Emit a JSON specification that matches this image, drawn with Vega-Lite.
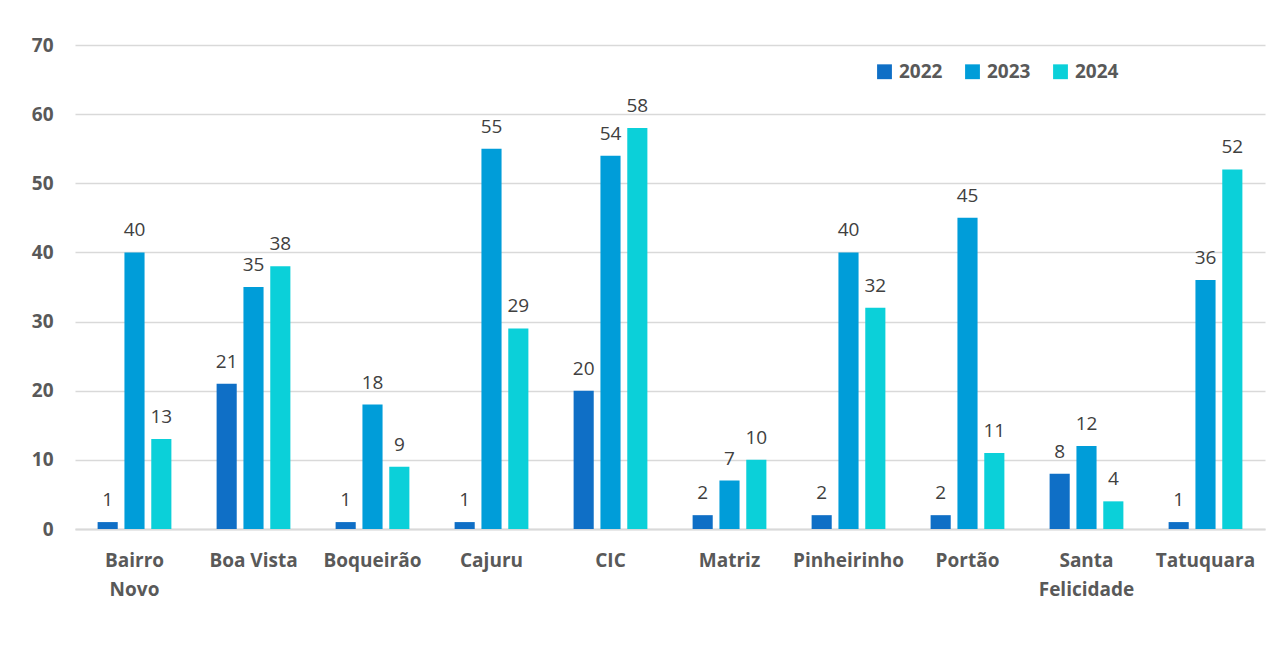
{
  "$schema": "https://vega.github.io/schema/vega-lite/v6.json",
  "width": 1190,
  "height": 484,
  "autosize": {"type": "none"},
  "padding": {"left": 75, "top": 45, "right": 20, "bottom": 128},
  "background": "white",
  "config": {
    "view": {"stroke": null},
    "font": "Open Sans"
  },
  "data": {
    "values": [
      {"regiao": "Bairro Novo", "ano": "2022", "valor": 1},
      {"regiao": "Bairro Novo", "ano": "2023", "valor": 40},
      {"regiao": "Bairro Novo", "ano": "2024", "valor": 13},
      {"regiao": "Boa Vista", "ano": "2022", "valor": 21},
      {"regiao": "Boa Vista", "ano": "2023", "valor": 35},
      {"regiao": "Boa Vista", "ano": "2024", "valor": 38},
      {"regiao": "Boqueirão", "ano": "2022", "valor": 1},
      {"regiao": "Boqueirão", "ano": "2023", "valor": 18},
      {"regiao": "Boqueirão", "ano": "2024", "valor": 9},
      {"regiao": "Cajuru", "ano": "2022", "valor": 1},
      {"regiao": "Cajuru", "ano": "2023", "valor": 55},
      {"regiao": "Cajuru", "ano": "2024", "valor": 29},
      {"regiao": "CIC", "ano": "2022", "valor": 20},
      {"regiao": "CIC", "ano": "2023", "valor": 54},
      {"regiao": "CIC", "ano": "2024", "valor": 58},
      {"regiao": "Matriz", "ano": "2022", "valor": 2},
      {"regiao": "Matriz", "ano": "2023", "valor": 7},
      {"regiao": "Matriz", "ano": "2024", "valor": 10},
      {"regiao": "Pinheirinho", "ano": "2022", "valor": 2},
      {"regiao": "Pinheirinho", "ano": "2023", "valor": 40},
      {"regiao": "Pinheirinho", "ano": "2024", "valor": 32},
      {"regiao": "Portão", "ano": "2022", "valor": 2},
      {"regiao": "Portão", "ano": "2023", "valor": 45},
      {"regiao": "Portão", "ano": "2024", "valor": 11},
      {"regiao": "Santa Felicidade", "ano": "2022", "valor": 8},
      {"regiao": "Santa Felicidade", "ano": "2023", "valor": 12},
      {"regiao": "Santa Felicidade", "ano": "2024", "valor": 4},
      {"regiao": "Tatuquara", "ano": "2022", "valor": 1},
      {"regiao": "Tatuquara", "ano": "2023", "valor": 36},
      {"regiao": "Tatuquara", "ano": "2024", "valor": 52}
    ]
  },
  "encoding": {
    "x": {
      "field": "regiao",
      "type": "nominal",
      "sort": null,
      "scale": {"paddingInner": 0.38, "paddingOuter": 0.19},
      "axis": {
        "title": null,
        "ticks": false,
        "domain": true,
        "domainColor": "#d9d9d9",
        "domainWidth": 2,
        "labelAngle": 0,
        "labelFontSize": 19,
        "labelFontWeight": "bold",
        "labelColor": "#595959",
        "labelPadding": 22,
        "labelLineHeight": 29,
        "labelExpr": "datum.label == 'Bairro Novo' ? ['Bairro', 'Novo'] : datum.label == 'Santa Felicidade' ? ['Santa', 'Felicidade'] : datum.label"
      }
    },
    "xOffset": {
      "field": "ano",
      "type": "nominal",
      "scale": {"paddingInner": 0.25, "paddingOuter": 0}
    },
    "y": {
      "field": "valor",
      "type": "quantitative",
      "scale": {"domain": [0, 70]},
      "axis": {
        "title": null,
        "values": [0, 10, 20, 30, 40, 50, 60, 70],
        "ticks": false,
        "domain": false,
        "gridColor": "#d9d9d9",
        "gridWidth": 1.5,
        "labelFontSize": 19,
        "labelFontWeight": "bold",
        "labelColor": "#595959",
        "labelPadding": 22
      }
    }
  },
  "layer": [
    {
      "mark": {"type": "bar"},
      "encoding": {
        "color": {
          "field": "ano",
          "type": "nominal",
          "scale": {"domain": ["2022", "2023", "2024"], "range": ["#0F6FC6", "#009DD9", "#0BD0D9"]},
          "legend": {
            "title": null,
            "orient": "none",
            "legendX": 800,
            "legendY": 17,
            "direction": "horizontal",
            "symbolType": "square",
            "symbolSize": 220,
            "symbolStrokeWidth": 0,
            "labelFontSize": 19,
            "labelFontWeight": "bold",
            "labelColor": "#595959",
            "columnPadding": 20,
            "labelOffset": 5
          }
        }
      }
    },
    {
      "mark": {"type": "text", "baseline": "bottom", "dy": -12, "fontSize": 19, "color": "#404040"},
      "encoding": {
        "text": {"field": "valor", "type": "quantitative"}
      }
    }
  ]
}
